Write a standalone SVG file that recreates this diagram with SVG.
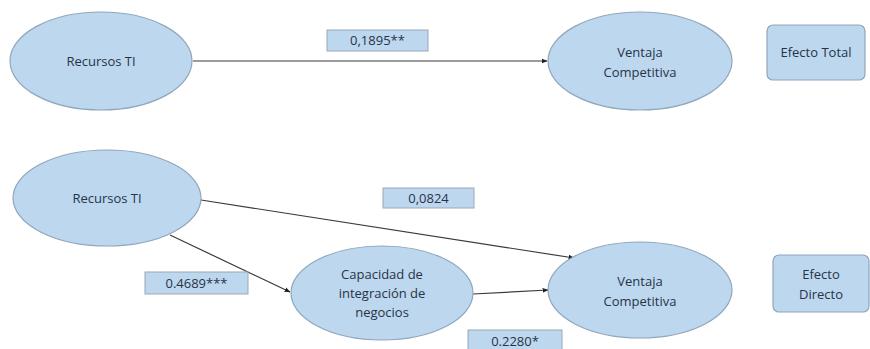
<svg xmlns="http://www.w3.org/2000/svg" width="870" height="349" viewBox="0 0 870 349">
<style>
.node{fill:#bdd7ee;stroke:#8fa6bc;stroke-width:1.2}
.lbl{fill:#bdd7ee;stroke:#9aa8b5;stroke-width:1}
.t{font-family:"Open Sans","Liberation Sans",sans-serif;font-size:13px;fill:#263448;text-anchor:middle}
.c{stroke:#3a3a3a;stroke-width:1.2;fill:none;marker-end:url(#a)}
</style>
<defs>
<marker id="a" viewBox="0 0 10 10" refX="9" refY="5" markerWidth="6" markerHeight="6" markerUnits="userSpaceOnUse" orient="auto">
<path d="M0,1 L10,5 L0,9 z" fill="#222"/>
</marker>
</defs>
<rect width="870" height="349" fill="#ffffff"/>
<g id="connectors">
<line class="c" x1="193" y1="61" x2="547" y2="61"/>
<line class="c" x1="201" y1="200" x2="574" y2="258"/>
<line class="c" x1="170" y1="235" x2="290" y2="292"/>
<line class="c" x1="473" y1="294" x2="548" y2="290"/>
</g>
<g id="lbl-0-1895"><rect class="lbl" x="327" y="30" width="101" height="21"/><text class="t" x="377.5" y="45">0,1895**</text></g>
<g id="lbl-0-0824"><rect class="lbl" x="383" y="188" width="91" height="20"/><text class="t" x="428.5" y="203">0,0824</text></g>
<g id="lbl-0-4689"><rect class="lbl" x="145" y="272" width="103" height="22"/><text class="t" x="196.5" y="288">0.4689***</text></g>
<g id="lbl-0-2280"><rect class="lbl" x="468" y="330" width="94" height="22"/><text class="t" x="515" y="346">0.2280*</text></g>
<g id="recursos-top"><ellipse class="node" cx="101" cy="61" rx="91" ry="49"/><text class="t" x="101" y="66">Recursos TI</text></g>
<g id="ventaja-top"><ellipse class="node" cx="640" cy="61" rx="92" ry="49"/><text class="t" x="640" y="57">Ventaja</text><text class="t" x="640" y="77">Competitiva</text></g>
<g id="efecto-total"><rect class="node" x="767" y="25" width="98" height="55" rx="6"/><text class="t" x="816" y="57">Efecto Total</text></g>
<g id="recursos-bottom"><ellipse class="node" cx="107" cy="198" rx="94" ry="48"/><text class="t" x="107" y="203">Recursos TI</text></g>
<g id="capacidad"><ellipse class="node" cx="382" cy="293" rx="91" ry="47"/><text class="t" x="382" y="279">Capacidad de</text><text class="t" x="382" y="298">integración de</text><text class="t" x="382" y="317">negocios</text></g>
<g id="ventaja-bottom"><ellipse class="node" cx="640" cy="290" rx="92" ry="48"/><text class="t" x="640" y="286">Ventaja</text><text class="t" x="640" y="306">Competitiva</text></g>
<g id="efecto-directo"><rect class="node" x="773" y="255" width="96" height="57" rx="6"/><text class="t" x="821" y="279">Efecto</text><text class="t" x="821" y="299">Directo</text></g>
</svg>
